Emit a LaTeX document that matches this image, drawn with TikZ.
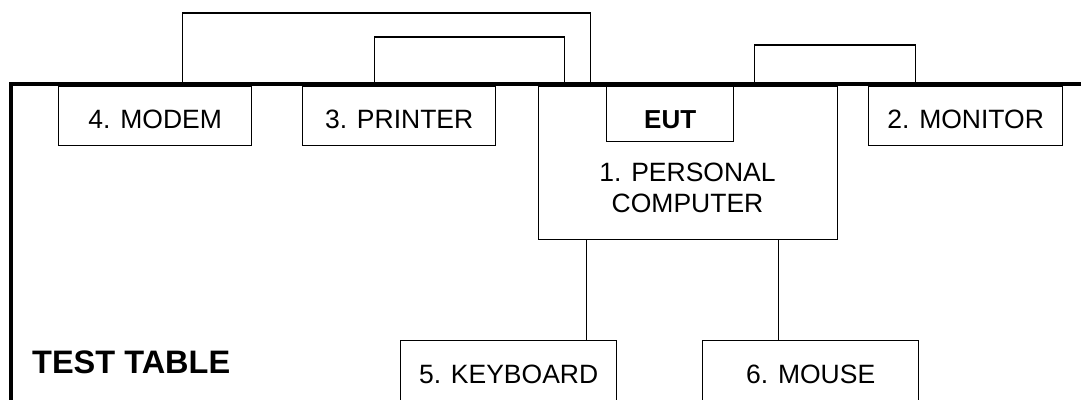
\documentclass[tikz,border=0pt]{standalone}
\usepackage{fontspec}
\setmainfont{Liberation Sans}
\begin{document}
\begin{tikzpicture}[x=1pt,y=-1pt,
  box/.style={draw,line width=1.3pt,anchor=north west,inner sep=0pt,
    font=\fontsize{26.5}{31}\selectfont,text height=25pt,text depth=0pt},
  wire/.style={line width=1.3pt},
  table/.style={line width=4pt,line join=miter}]
\useasboundingbox (0,0) rectangle (1081,399);
% devices
\node[box,minimum width=193pt,minimum height=59pt] (modem) at (58,86) {4. MODEM};
\node[box,minimum width=193pt,minimum height=59pt] (printer) at (302,86) {3. PRINTER};
\node[box,minimum width=299pt,minimum height=153pt] (pc) at (538,86) {};
\node[box,minimum width=127pt,minimum height=55pt,text height=29pt,font=\fontsize{26}{31}\selectfont\bfseries] (eut) at (606,86) {EUT};
\node[box,minimum width=194pt,minimum height=59pt] (monitor) at (868,86) {2. MONITOR};
\node[align=center,inner sep=0pt,font=\fontsize{26.5}{31}\selectfont] (pclabel) at (687.5,187.5) {1. PERSONAL\\COMPUTER};
\node[box,minimum width=216pt,minimum height=66pt,text height=20pt] (kb) at (400,340) {5. KEYBOARD};
\node[box,minimum width=216pt,minimum height=66pt,text height=20pt] (mouse) at (702,340) {6. MOUSE};
\node[anchor=base west,inner sep=0pt,font=\fontsize{32.5}{38}\selectfont\bfseries] (tt) at (32,373) {TEST TABLE};
% cables
\draw[wire] ([xshift=27.5pt]modem.north) -- ++(0,-73) -| ([xshift=-97.5pt]pc.north);
\draw[wire] ([xshift=-24.5pt]printer.north) -- ++(0,-49) -| ([xshift=-123.5pt]pc.north);
\draw[wire] ([xshift=66.5pt]pc.north) -- ++(0,-41) -| ([xshift=-50pt]monitor.north);
\draw[wire] ([xshift=-101.5pt]pc.south) -- ([xshift=78pt]kb.north);
\draw[wire] ([xshift=90.5pt]pc.south) -- ([xshift=-32pt]mouse.north);
% table edge
\coordinate (tl) at (10.5,84);
\draw[table] (tl |- 0,410) -- (tl) -- (1090,84);
\end{tikzpicture}
\end{document}
